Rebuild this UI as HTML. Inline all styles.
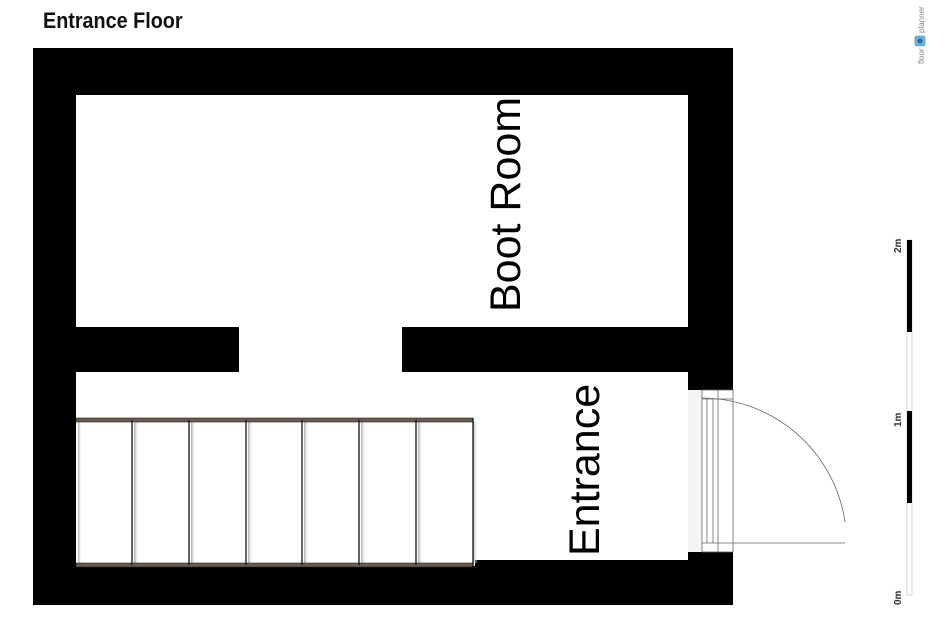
<!DOCTYPE html>
<html><head><meta charset="utf-8"><style>
html,body{margin:0;padding:0;background:#fff;}
svg{display:block;}
</style></head><body>
<svg width="951" height="636" viewBox="0 0 951 636" xmlns="http://www.w3.org/2000/svg">
<defs>
<linearGradient id="sh" x1="0" x2="1" y1="0" y2="0">
<stop offset="0" stop-color="#aaa"/><stop offset="1" stop-color="#fff" stop-opacity="0"/>
</linearGradient>
</defs>
<text x="43" y="28" font-family="Liberation Sans, sans-serif" font-weight="bold" font-size="22" transform="translate(43 0) scale(0.9 1) translate(-43 0)" fill="#111">Entrance Floor</text>
<!-- walls -->
<rect x="33" y="48" width="700" height="47" fill="#000"/>
<rect x="33" y="48" width="43" height="557" fill="#000"/>
<rect x="688" y="48" width="45" height="342" fill="#000"/>
<rect x="33" y="566" width="442" height="39" fill="#000"/>
<rect x="475" y="560" width="258" height="45" fill="#000"/>
<rect x="688" y="552" width="45" height="53" fill="#000"/>
<rect x="76" y="327" width="163" height="45" fill="#000"/>
<rect x="402" y="327" width="286" height="45" fill="#000"/>
<!-- door opening -->
<rect x="688" y="390" width="14" height="162" fill="#f4f4f4"/>
<g stroke="#666" stroke-width="0.8" fill="none">
<rect x="702" y="390" width="31" height="162"/>
<line x1="702" y1="399" x2="733" y2="399"/>
<line x1="702" y1="543" x2="845" y2="543"/>
<line x1="707" y1="399" x2="707" y2="543"/>
<line x1="713" y1="399" x2="713" y2="543"/>
<line x1="718" y1="390" x2="718" y2="552"/>
<path d="M702 398 A145 145 0 0 1 845 522"/>
</g>
<!-- stairs -->
<g>
<rect x="76" y="419" width="397" height="147" fill="#fff"/>
<rect x="473" y="422" width="5" height="141" fill="url(#sh)"/>
<rect x="78" y="422" width="4" height="142" fill="url(#sh)"/>
<rect x="134" y="422" width="5" height="142" fill="url(#sh)"/>
<rect x="191" y="422" width="5" height="142" fill="url(#sh)"/>
<rect x="248" y="422" width="5" height="142" fill="url(#sh)"/>
<rect x="304" y="422" width="5" height="142" fill="url(#sh)"/>
<rect x="361" y="422" width="5" height="142" fill="url(#sh)"/>
<rect x="418" y="422" width="5" height="142" fill="url(#sh)"/>
<rect x="76" y="418" width="397" height="4" fill="#6b5a4e" stroke="#222" stroke-width="0.6"/>
<rect x="76" y="563" width="397" height="4" fill="#6b5a4e" stroke="#222" stroke-width="0.6"/>
<g stroke="#111" stroke-width="1.3">
<line x1="132" y1="420" x2="132" y2="565"/>
<line x1="189" y1="420" x2="189" y2="565"/>
<line x1="246" y1="420" x2="246" y2="565"/>
<line x1="302" y1="420" x2="302" y2="565"/>
<line x1="359" y1="420" x2="359" y2="565"/>
<line x1="416" y1="420" x2="416" y2="565"/>
<line x1="473" y1="418" x2="473" y2="567"/>
</g>
</g>
<!-- labels -->
<text transform="translate(520 312) rotate(-90)" font-family="Liberation Sans, sans-serif" font-size="43" fill="#000">Boot Room</text>
<text transform="translate(599 556) rotate(-90)" font-family="Liberation Sans, sans-serif" font-size="43" fill="#000">Entrance</text>
<!-- scale bar -->
<rect x="907" y="240" width="5" height="355" fill="#fff" stroke="#bbb" stroke-width="0.6"/>
<rect x="907" y="240" width="5" height="92" fill="#000"/>
<rect x="907" y="411" width="5" height="92" fill="#000"/>
<g font-family="Liberation Sans, sans-serif" font-size="10" font-weight="bold" fill="#333">
<text transform="translate(901 253) rotate(-90)">2m</text>
<text transform="translate(901 427) rotate(-90)">1m</text>
<text transform="translate(901 605) rotate(-90)">0m</text>
</g>
<!-- logo -->
<g font-family="Liberation Sans, sans-serif" font-size="8" fill="#888">
<text transform="translate(924 64) rotate(-90)">floor</text>
<text transform="translate(924 33) rotate(-90)">planner</text>
</g>
<rect x="915" y="36" width="10" height="10" rx="2" fill="#6bb6dd" stroke="#3a88b5" stroke-width="0.6"/>
<circle cx="920" cy="41" r="2.5" fill="#1d6fa0"/>
</svg>
</body></html>
